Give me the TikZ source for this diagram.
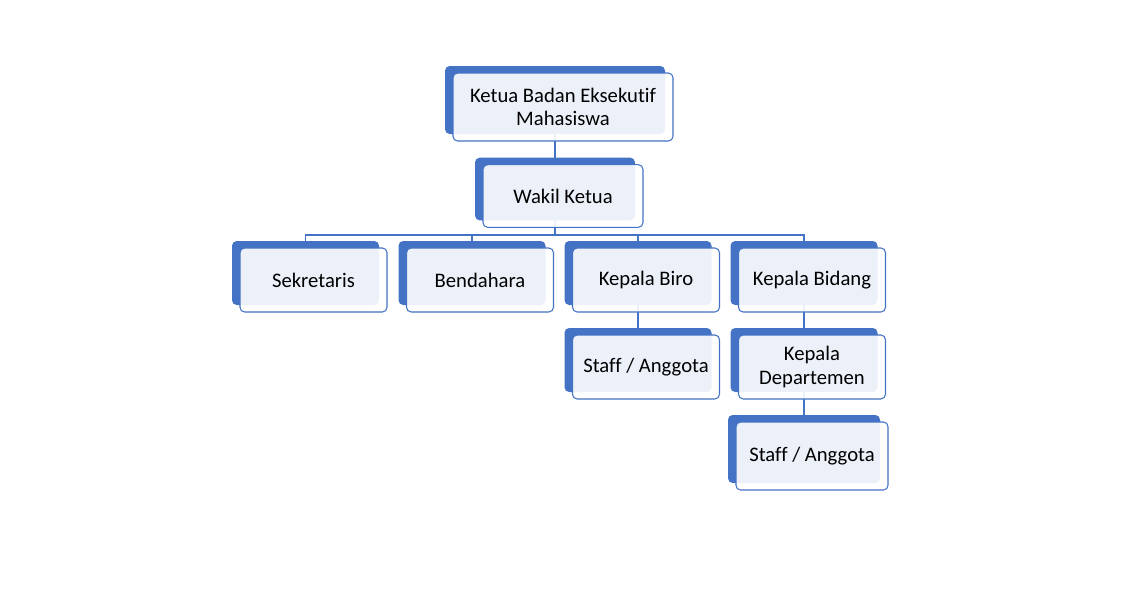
\documentclass[tikz,border=0pt]{standalone}
\usepackage{fontspec}
\setmainfont{Carlito}[Ligatures=NoCommon]
\usetikzlibrary{positioning,backgrounds,calc}
\definecolor{orgblue}{HTML}{4472C4}
\tikzset{
  backbox/.style={fill=orgblue, rounded corners=3.5pt, inner sep=0pt},
  frontbox/.style={draw=orgblue, line width=0.8pt, fill=white, fill opacity=0.9,
    text opacity=1, rounded corners=3.5pt, inner sep=0pt, align=center,
    font=\fontsize{15.5}{17.5}\selectfont},
  link/.style={draw=orgblue, line width=0.8pt}
}
% name, x, y, width, height, text
\newcommand{\orgbox}[6]{
  \node[backbox, minimum width=#4, minimum height=#5] (#1b) at (#2,#3) {};
  \node[frontbox, minimum width=#4, minimum height=#5] (#1) at ($(#1b)+(8,7)$) {#6};
}
\begin{document}
\begin{tikzpicture}[x=0.75pt,y=-0.75pt]
    \useasboundingbox (0,0) rectangle (1122,589);
    \orgbox{top}{555}{100}{165pt}{51pt}{Ketua Badan Eksekutif\\Mahasiswa}
    \orgbox{wakil}{555}{189}{120pt}{47pt}{Wakil Ketua}
    \orgbox{sek}{305.5}{273}{110.25pt}{48pt}{Sekretaris}
    \orgbox{bend}{472}{273}{110.25pt}{48pt}{Bendahara}
    \orgbox{biro}{638}{273}{110.25pt}{48pt}{Kepala Biro}
    \orgbox{bidang}{804}{273}{110.25pt}{48pt}{Kepala Bidang}
    \orgbox{staffa}{638}{360}{110.25pt}{48pt}{Staff / Anggota}
    \orgbox{dept}{804}{360}{110.25pt}{48pt}{Kepala\\Departemen}
    \orgbox{staffb}{804}{449}{114pt}{51pt}{Staff / Anggota}
    \coordinate (bus) at (555,235);
    \begin{pgfonlayer}{background}
        \draw[link] (topb.center) -- (wakilb.center);
        \draw[link] (wakilb.center) -- (bus);
        \draw[link] (sekb.center) |- (bus) -| (bidangb.center);
        \draw[link] (bendb.center) -- (bendb |- bus);
        \draw[link] (birob.center) -- (birob |- bus);
        \draw[link] (birob.center) -- (staffab.center);
        \draw[link] (bidangb.center) -- (deptb.center);
        \draw[link] (deptb.center) -- (staffbb.center);
    \end{pgfonlayer}
\end{tikzpicture}
\end{document}
